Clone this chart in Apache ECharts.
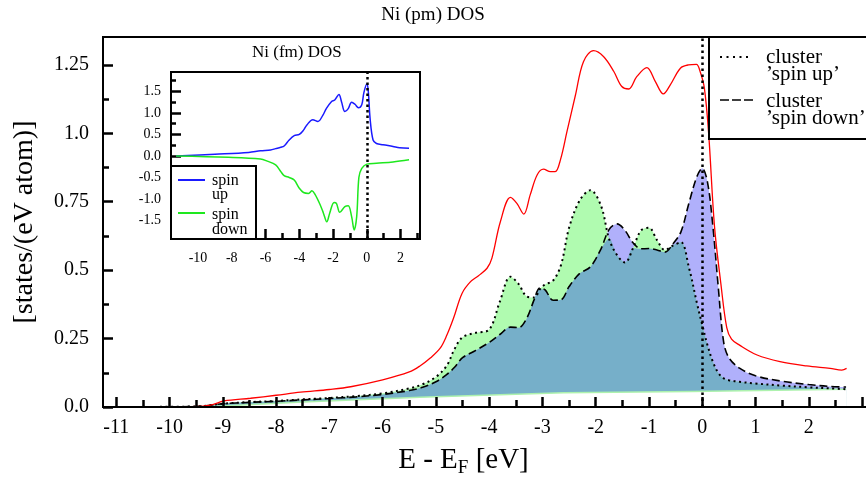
<!DOCTYPE html>
<html>
<head>
<meta charset="utf-8">
<script src="https://cdn.jsdelivr.net/npm/echarts@6/dist/echarts.min.js"></script>
<style>
    html, body { margin: 0; padding: 0; background: #fff; }
    #dos_con { width: 866px; height: 479px; }
</style>
</head>
<body>
<div id="dos_con"></div>
<script>
    // cluster DOS, Ni (pm) - energies relative to E_F in eV
    const energy = [-10.9, -9.5, -9.0, -8.5, -8.0, -7.5, -7.0, -6.5, -6.0, -5.5, -5.25, -5.0, -4.8, -4.65, -4.5, -4.25, -4.0, -3.8, -3.6, -3.45,
        -3.3, -3.15, -3.05, -2.95, -2.8, -2.65, -2.5, -2.3, -2.1, -1.9, -1.75, -1.6, -1.45, -1.3, -1.15, -1.0, -0.85, -0.7, -0.55, -0.4,
        -0.25, -0.1, 0, 0.1, 0.2, 0.3, 0.4, 0.5, 0.7, 1.0, 1.5, 2.0, 2.4, 2.7];
    const clusterUp = [0, 0.002, 0.012, 0.018, 0.022, 0.028, 0.033, 0.04, 0.05, 0.068, 0.083, 0.11, 0.15, 0.212, 0.255, 0.271, 0.283, 0.385, 0.476, 0.45,
        0.405, 0.40, 0.43, 0.448, 0.462, 0.52, 0.655, 0.755, 0.792, 0.735, 0.615, 0.555, 0.528, 0.58, 0.645, 0.655, 0.61, 0.574, 0.59, 0.602,
        0.51, 0.38, 0.30, 0.225, 0.165, 0.125, 0.105, 0.098, 0.092, 0.086, 0.078, 0.072, 0.068, 0.065];
    const clusterDown = [0, 0.002, 0.012, 0.017, 0.021, 0.026, 0.031, 0.037, 0.046, 0.06, 0.072, 0.092, 0.118, 0.145, 0.18, 0.207, 0.236, 0.265, 0.292, 0.29,
        0.322, 0.395, 0.435, 0.428, 0.39, 0.392, 0.44, 0.488, 0.512, 0.578, 0.648, 0.669, 0.645, 0.60, 0.578, 0.579, 0.574, 0.566, 0.596, 0.64,
        0.745, 0.842, 0.872, 0.82, 0.66, 0.44, 0.24, 0.18, 0.142, 0.114, 0.094, 0.082, 0.075, 0.073];

    // total DOS (red)
    const totalE = [-10.86, -9.6, -9.23, -8.98, -8.48, -8.0, -7.54, -7.0, -6.6, -6.0, -5.5, -5.3, -5.1, -4.92, -4.8, -4.67, -4.51, -4.35, -4.2, -4.04,
        -3.95, -3.79, -3.6, -3.48, -3.35, -3.23, -3.1, -2.98, -2.85, -2.76, -2.66, -2.54, -2.38, -2.23, -2.04, -1.85, -1.66, -1.51, -1.38, -1.23,
        -1.04, -0.88, -0.73, -0.6, -0.41, -0.26, -0.11, -0.04, 0.04, 0.12, 0.23, 0.35, 0.46, 0.55, 0.7, 1.03, 1.46, 1.96, 2.4, 2.62, 2.71];
    const totalDos = [0, 0.001, 0.007, 0.022, 0.032, 0.043, 0.054, 0.064, 0.074, 0.099, 0.128, 0.15, 0.18, 0.215, 0.26, 0.324, 0.415, 0.458, 0.48, 0.507,
        0.543, 0.677, 0.766, 0.744, 0.705, 0.775, 0.848, 0.869, 0.86, 0.86, 0.905, 1.006, 1.14, 1.262, 1.302, 1.28, 1.226, 1.171, 1.162, 1.207,
        1.24, 1.189, 1.144, 1.177, 1.238, 1.25, 1.252, 1.226, 1.165, 1.0, 0.66, 0.45, 0.29, 0.248, 0.226, 0.19, 0.166, 0.15, 0.141, 0.135, 0.141];

    // lower edge of the filled region (thin green line)
    const baseE = [-10.9, -9.2, -7.5, -5.3, -2.6, -0.2, 2.7];
    const baseDos = [0, 0.002, 0.018, 0.036, 0.052, 0.057, 0.065];

    // inset: Ni (fm) DOS
    const insetUpE = [-11.3, -9, -7, -6.3, -5.7, -5.4, -5.1, -4.9, -4.6, -4.3, -4.0, -3.75, -3.55, -3.2, -2.9, -2.6, -2.4, -2.1, -1.9, -1.65,
        -1.5, -1.3, -1.1, -0.9, -0.7, -0.5, -0.3, -0.18, 0, 0.08, 0.2, 0.37, 0.57, 0.96, 1.55, 1.94, 2.5];
    const insetUp = [0, 0.04, 0.08, 0.12, 0.14, 0.17, 0.2, 0.23, 0.37, 0.47, 0.5, 0.6, 0.72, 0.84, 0.8, 0.95, 1.1, 1.26, 1.3, 1.43,
        1.26, 1.03, 1.1, 1.25, 1.2, 1.12, 1.19, 1.46, 1.67, 1.53, 0.84, 0.37, 0.29, 0.26, 0.22, 0.19, 0.18];
    const insetDownE = [-11.3, -8.2, -6.3, -5.9, -5.4, -5.1, -4.9, -4.6, -4.3, -4.0, -3.75, -3.45, -3.25, -3.06, -2.76, -2.57, -2.37, -2.2, -1.94, -1.8,
        -1.6, -1.3, -1.1, -0.9, -0.75, -0.6, -0.47, -0.3, 0, 0.57, 1.55, 2.5];
    const insetDown = [0, -0.03, -0.07, -0.12, -0.21, -0.36, -0.46, -0.5, -0.56, -0.75, -0.85, -0.87, -0.81, -0.9, -1.14, -1.33, -1.53, -1.33, -1.08, -1.1,
        -1.31, -1.18, -1.16, -1.41, -1.72, -1.41, -0.5, -0.29, -0.19, -0.17, -0.14, -0.09];

    // tick values
    const mainXMajor = [-11, -10, -9, -8, -7, -6, -5, -4, -3, -2, -1, 0, 1, 2, 3];
    const mainXMinor = [-10.5, -9.5, -8.5, -7.5, -6.5, -5.5, -4.5, -3.5, -2.5, -1.5, -0.5, 0.5, 1.5, 2.5, 3.5];
    const mainXLabels = [-11, -10, -9, -8, -7, -6, -5, -4, -3, -2, -1, 0, 1, 2];
    const mainYMajor = [0, 0.25, 0.5, 0.75, 1.0, 1.25];
    const mainYMinor = [0.125, 0.375, 0.625, 0.875, 1.125];
    const insetXMajor = [-10, -8, -6, -4, -2, 0, 2];
    const insetXMinor = [-11, -9, -7, -5, -3, -1, 1, 3];
    const insetYMajor = [-1.5, -1.0, -0.5, 0, 0.5, 1.0, 1.5];
    const insetYMinor = [-1.75, -1.25, -0.75, -0.25, 0.25, 0.75, 1.25, 1.75];

    const FONT = 'Liberation Serif';

    function zip(xs, ys) {
        return xs.map(function (x, i) { return [x, ys[i]]; });
    }

    const overlap = clusterUp.map(function (v, i) { return Math.min(v, clusterDown[i]); });

    const chart = echarts.init(document.getElementById('dos_con'));

    // extra axis used only to draw the short (minor) ticks
    function tickAxis(grid, pos, min, max, values, len, extra) {
        return Object.assign({
            gridIndex: grid, type: 'value', position: pos, min: min, max: max,
            axisLine: {show: false, onZero: false},
            axisTick: {show: true, inside: true, length: len, customValues: values, lineStyle: {color: '#000', width: 2.5}},
            axisLabel: {show: false},
            splitLine: {show: false}
        }, extra || {});
    }

    const option = {
        animation: false,
        title: [
            {text: 'Ni (pm) DOS', left: 'center', top: 6, padding: 0,
                textStyle: {fontFamily: FONT, fontSize: 19, fontWeight: 'normal', color: '#000'}},
            {text: 'Ni (fm) DOS', left: 252, top: 44, padding: 0,
                textStyle: {fontFamily: FONT, fontSize: 17, fontWeight: 'normal', color: '#000'}}
        ],
        grid: [
            {left: 103, top: 37, width: 791, height: 370, outerBoundsMode: 'none', containLabel: false,
                show: true, borderColor: '#000', borderWidth: 2},
            {left: 171, top: 72, width: 249, height: 167, outerBoundsMode: 'none', containLabel: false,
                show: true, borderColor: '#000', borderWidth: 2, backgroundColor: '#fff'}
        ],
        xAxis: [
            {
                gridIndex: 0, type: 'value', position: 'bottom', min: -11.25, max: 3.6, z: 10,
                axisLine: {onZero: false, lineStyle: {color: '#000', width: 2}},
                axisTick: {inside: true, length: 10, customValues: mainXMajor, lineStyle: {color: '#000', width: 2.5}},
                axisLabel: {customValues: mainXLabels, color: '#000', fontFamily: FONT, fontSize: 20, margin: 11},
                splitLine: {show: false},
                name: 'E - E{sub|F} [eV]', nameLocation: 'middle', nameGap: 36,
                nameTextStyle: {fontFamily: FONT, fontSize: 29, color: '#000', padding: [0, 70, 0, 0],
                    rich: {sub: {fontFamily: FONT, fontSize: 19, color: '#000', padding: [16, 0, 0, 0]}}}
            },
            tickAxis(0, 'bottom', -11.25, 3.6, mainXMinor, 7, {z: 10}),
            {
                gridIndex: 1, type: 'value', position: 'bottom', min: -11.6, max: 3.15,
                axisLine: {onZero: false, lineStyle: {color: '#000', width: 2}},
                axisTick: {inside: true, length: 10, customValues: insetXMajor, lineStyle: {color: '#000', width: 2.5}},
                axisLabel: {customValues: insetXMajor, color: '#000', fontFamily: FONT, fontSize: 14, margin: 12},
                splitLine: {show: false}
            },
            tickAxis(1, 'bottom', -11.6, 3.15, insetXMinor, 6)
        ],
        yAxis: [
            {
                gridIndex: 0, type: 'value', position: 'left', min: 0, max: 1.352,
                axisLine: {onZero: false, lineStyle: {color: '#000', width: 2}},
                axisTick: {inside: true, length: 10, customValues: mainYMajor, lineStyle: {color: '#000', width: 2.5}},
                axisLabel: {
                    customValues: mainYMajor, color: '#000', fontFamily: FONT, fontSize: 20, margin: 14,
                    formatter: function (v) { const s = String(v); return s.indexOf('.') >= 0 ? s : v.toFixed(1); }
                },
                splitLine: {show: false},
                name: '[states/(eV atom)]', nameLocation: 'middle', nameGap: 64,
                nameTextStyle: {fontFamily: FONT, fontSize: 28, color: '#000'}
            },
            tickAxis(0, 'left', 0, 1.352, mainYMinor, 6),
            {
                gridIndex: 1, type: 'value', position: 'left', min: -1.93, max: 1.95,
                axisLine: {onZero: false, lineStyle: {color: '#000', width: 2}},
                axisTick: {inside: true, length: 10, customValues: insetYMajor, lineStyle: {color: '#000', width: 2.5}},
                axisLabel: {
                    customValues: insetYMajor, color: '#000', fontFamily: FONT, fontSize: 14, margin: 10,
                    formatter: function (v) { return v.toFixed(1); }
                },
                splitLine: {show: false}
            },
            tickAxis(1, 'left', -1.93, 1.95, insetYMinor, 5)
        ],
        series: [
            {
                name: 'down fill', type: 'line', xAxisIndex: 0, yAxisIndex: 0, z: 1, silent: true,
                data: zip(energy, clusterDown), smooth: 0.35, symbol: 'none',
                lineStyle: {width: 0}, areaStyle: {color: '#b0b0fb', opacity: 1}
            },
            {
                name: 'up fill', type: 'line', xAxisIndex: 0, yAxisIndex: 0, z: 1, silent: true,
                data: zip(energy, clusterUp), smooth: 0.35, symbol: 'none',
                lineStyle: {width: 0}, areaStyle: {color: '#b0fbb0', opacity: 1}
            },
            {
                name: 'overlap', type: 'line', xAxisIndex: 0, yAxisIndex: 0, z: 1, silent: true,
                data: zip(energy, overlap), smooth: 0.35, symbol: 'none',
                lineStyle: {width: 0}, areaStyle: {color: '#76afc9', opacity: 1}
            },
            {
                name: 'base cover', type: 'line', xAxisIndex: 0, yAxisIndex: 0, z: 1, silent: true,
                data: zip(baseE, baseDos), symbol: 'none',
                lineStyle: {width: 0}, areaStyle: {color: '#fff', opacity: 1}
            },
            {
                name: 'base', type: 'line', xAxisIndex: 0, yAxisIndex: 0, z: 2, silent: true,
                data: zip(baseE, baseDos), symbol: 'none',
                lineStyle: {color: '#aef2ae', width: 1.5}
            },
            {
                name: 'cluster \u2019spin up\u2019', type: 'line', xAxisIndex: 0, yAxisIndex: 0, z: 3,
                data: zip(energy, clusterUp), smooth: 0.35, symbol: 'none',
                lineStyle: {color: '#000', width: 2, type: [2, 3.5]},
                markLine: {
                    silent: true, symbol: 'none', label: {show: false},
                    lineStyle: {color: '#000', width: 2.5, type: [2.5, 3.5]},
                    data: [{xAxis: 0}]
                }
            },
            {
                name: 'cluster \u2019spin down\u2019', type: 'line', xAxisIndex: 0, yAxisIndex: 0, z: 3,
                data: zip(energy, clusterDown), smooth: 0.35, symbol: 'none',
                lineStyle: {color: '#000', width: 1.6, type: [8, 4]}
            },
            {
                name: 'total', type: 'line', xAxisIndex: 0, yAxisIndex: 0, z: 3,
                data: zip(totalE, totalDos), smooth: 0.35, symbol: 'none',
                lineStyle: {color: '#ff0000', width: 1.3}
            },
            {
                name: 'spin up', type: 'line', xAxisIndex: 2, yAxisIndex: 2, z: 3,
                data: zip(insetUpE, insetUp), smooth: 0.35, symbol: 'none',
                lineStyle: {color: '#1a1aff', width: 1.5},
                markLine: {
                    silent: true, symbol: 'none', label: {show: false},
                    lineStyle: {color: '#000', width: 2.5, type: [2.5, 3]},
                    data: [{xAxis: 0}]
                }
            },
            {
                name: 'spin down', type: 'line', xAxisIndex: 2, yAxisIndex: 2, z: 3,
                data: zip(insetDownE, insetDown), smooth: 0.35, symbol: 'none',
                lineStyle: {color: '#1ee81e', width: 1.5}
            }
        ],
        graphic: [
            // main key
            {type: 'rect', z: 100, shape: {x: 709, y: 37, width: 200, height: 102}, style: {fill: '#fff', stroke: '#000', lineWidth: 2}},
            {type: 'line', z: 101, shape: {x1: 720, y1: 57, x2: 752, y2: 57}, style: {stroke: '#000', lineWidth: 2, lineDash: [2, 4.5]}},
            {type: 'line', z: 101, shape: {x1: 720, y1: 100, x2: 753, y2: 100}, style: {stroke: '#000', lineWidth: 1.6, lineDash: [9, 3]}},
            {type: 'text', z: 101, x: 766, y: 57, style: {text: 'cluster', fontFamily: FONT, fontSize: 21, fill: '#000', verticalAlign: 'middle', textVerticalAlign: 'middle'}},
            {type: 'text', z: 101, x: 766, y: 74, style: {text: '\u2019spin up\u2019', fontFamily: FONT, fontSize: 21, fill: '#000', verticalAlign: 'middle', textVerticalAlign: 'middle'}},
            {type: 'text', z: 101, x: 766, y: 101, style: {text: 'cluster', fontFamily: FONT, fontSize: 21, fill: '#000', verticalAlign: 'middle', textVerticalAlign: 'middle'}},
            {type: 'text', z: 101, x: 766, y: 118, style: {text: '\u2019spin down\u2019', fontFamily: FONT, fontSize: 21, fill: '#000', verticalAlign: 'middle', textVerticalAlign: 'middle'}},
            // inset key
            {type: 'rect', z: 100, shape: {x: 171, y: 166, width: 85, height: 73}, style: {fill: '#fff', stroke: '#000', lineWidth: 2}},
            {type: 'line', z: 101, shape: {x1: 178, y1: 180, x2: 205, y2: 180}, style: {stroke: '#1a1aff', lineWidth: 2}},
            {type: 'line', z: 101, shape: {x1: 178, y1: 213, x2: 205, y2: 213}, style: {stroke: '#1ee81e', lineWidth: 2}},
            {type: 'text', z: 101, x: 212, y: 181, style: {text: 'spin', fontFamily: FONT, fontSize: 16, fill: '#000', verticalAlign: 'middle', textVerticalAlign: 'middle'}},
            {type: 'text', z: 101, x: 212, y: 195, style: {text: 'up', fontFamily: FONT, fontSize: 16, fill: '#000', verticalAlign: 'middle', textVerticalAlign: 'middle'}},
            {type: 'text', z: 101, x: 212, y: 215, style: {text: 'spin', fontFamily: FONT, fontSize: 16, fill: '#000', verticalAlign: 'middle', textVerticalAlign: 'middle'}},
            {type: 'text', z: 101, x: 212, y: 230, style: {text: 'down', fontFamily: FONT, fontSize: 16, fill: '#000', verticalAlign: 'middle', textVerticalAlign: 'middle'}}
        ]
    };

    chart.setOption(option);

    window.addEventListener('resize', function () {
        chart.resize();
    });
</script>
</body>
</html>
